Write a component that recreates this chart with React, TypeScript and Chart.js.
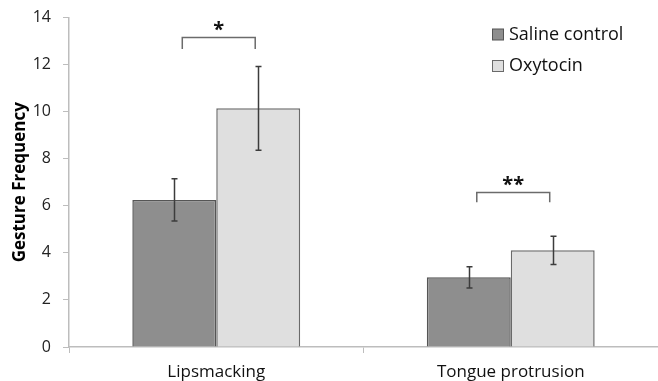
import React, { useEffect, useRef } from "react";
import { Chart, registerables } from "chart.js";

Chart.register(...registerables);

const categories = ["Lipsmacking", "Tongue protrusion"];
const seriesNames = ["Saline control", "Oxytocin"];
const salineValues = [6.25, 2.96];
const oxytocinValues = [10.14, 4.11];
const salineErrors = [0.9, 0.45];
const oxytocinErrors = [1.78, 0.6];
const bracketTops = [13.17, 6.6];
const bracketLegEnds = [12.66, 6.15];
const significance = ["*", "**"];
const yTicks = [0, 2, 4, 6, 8, 10, 12, 14];

const FONT = "'Open Sans', 'Liberation Sans', sans-serif";
const fills = ["#8e8e8e", "#dfdfdf"];
const borders = ["#555555", "#6a6a6a"];

const errorsByDataset = [salineErrors, oxytocinErrors];

const overlayPlugin = {
  id: "overlay",
  afterDatasetsDraw(chart: any) {
    const ctx = chart.ctx;
    const yScale = chart.scales.y;
    ctx.save();
    // error bars
    errorsByDataset.forEach((errs, di) => {
      const meta = chart.getDatasetMeta(di);
      meta.data.forEach((bar: any, i: number) => {
        const v = chart.data.datasets[di].data[i];
        const yTop = yScale.getPixelForValue(v + errs[i]);
        const yBot = yScale.getPixelForValue(v - errs[i]);
        const x = Math.round(bar.x) + 0.5;
        ctx.strokeStyle = "#3c3c3c";
        ctx.lineWidth = 1.5;
        ctx.beginPath();
        ctx.moveTo(x, yTop);
        ctx.lineTo(x, yBot);
        ctx.moveTo(x - 3, yTop);
        ctx.lineTo(x + 3, yTop);
        ctx.moveTo(x - 3, yBot);
        ctx.lineTo(x + 3, yBot);
        ctx.stroke();
      });
    });
    // significance brackets
    const m0 = chart.getDatasetMeta(0);
    const m1 = chart.getDatasetMeta(1);
    categories.forEach((_, i) => {
      const x0 = m0.data[i].x + 8;
      const x1 = m1.data[i].x - 3;
      const yT = Math.round(yScale.getPixelForValue(bracketTops[i])) + 0.5;
      const yL = yScale.getPixelForValue(bracketLegEnds[i]);
      ctx.strokeStyle = "#6b6b6b";
      ctx.lineWidth = 1.5;
      ctx.beginPath();
      ctx.moveTo(x0, yL);
      ctx.lineTo(x0, yT);
      ctx.lineTo(x1, yT);
      ctx.lineTo(x1, yL);
      ctx.stroke();
      ctx.fillStyle = "#111111";
      ctx.font = `bold 20px ${FONT}`;
      ctx.textAlign = "center";
      ctx.textBaseline = "alphabetic";
      ctx.fillText(significance[i], (x0 + x1) / 2, yT - 2);
    });
    // legend
    ctx.font = `18px ${FONT}`;
    ctx.textAlign = "left";
    ctx.textBaseline = "middle";
    seriesNames.forEach((name, i) => {
      const yc = 34.5 + i * 31.5;
      ctx.fillStyle = fills[i];
      ctx.fillRect(492.5, yc - 5.5, 11, 11);
      ctx.strokeStyle = borders[i];
      ctx.lineWidth = 1;
      ctx.strokeRect(492.5, yc - 5.5, 11, 11);
      ctx.fillStyle = "#111111";
      ctx.fillText(name, 509, yc);
    });
    ctx.restore();
  },
};

export default function App() {
  const ref = useRef<HTMLCanvasElement | null>(null);
  useEffect(() => {
    document.body.style.margin = "0";
    const canvas = ref.current;
    if (!canvas) return;
    const chart = new Chart(canvas, {
      type: "bar",
      data: {
        labels: categories,
        datasets: [
          {
            label: seriesNames[0],
            data: salineValues,
            backgroundColor: fills[0],
            borderColor: borders[0],
            borderWidth: 1.5,
            categoryPercentage: 0.57,
            barPercentage: 1,
          },
          {
            label: seriesNames[1],
            data: oxytocinValues,
            backgroundColor: fills[1],
            borderColor: borders[1],
            borderWidth: 1.5,
            categoryPercentage: 0.57,
            barPercentage: 1,
          },
        ],
      },
      options: {
        animation: false,
        responsive: false,
        maintainAspectRatio: false,
        layout: { padding: { top: 17.5, right: 0, left: 0, bottom: 0 } },
        plugins: {
          legend: { display: false },
          tooltip: { enabled: false },
        },
        scales: {
          x: {
            offset: true,
            grid: {
              offset: true,
              drawOnChartArea: false,
              drawTicks: true,
              tickLength: 6,
              color: "#bdbdbd",
            },
            border: { color: "#bdbdbd", width: 1.5 },
            ticks: {
              color: "#111111",
              font: { family: FONT, size: 17 },
              padding: 9,
            },
            afterFit: (scale: any) => {
              scale.height = 34;
            },
          },
          y: {
            min: 0,
            max: 14,
            afterBuildTicks: (scale: any) => {
              scale.ticks = yTicks.map((v) => ({ value: v }));
            },
            afterFit: (scale: any) => {
              scale.width = 69;
              scale.paddingTop = 0;
              scale.paddingBottom = 0;
            },
            grid: {
              drawOnChartArea: false,
              drawTicks: true,
              tickLength: 6,
              color: "#bdbdbd",
            },
            border: { color: "#bdbdbd", width: 1.5 },
            ticks: {
              color: "#222222",
              font: { family: FONT, size: 16 },
              padding: 12,
            },
            title: {
              display: true,
              text: "Gesture Frequency",
              color: "#000000",
              font: { family: FONT, size: 17, weight: "bold" },
              padding: { top: 10, bottom: 0 },
            },
          },
        },
      },
      plugins: [overlayPlugin],
    });
    return () => chart.destroy();
  }, []);
  return <canvas ref={ref} width={658} height={381} style={{ display: "block" }} />;
}
